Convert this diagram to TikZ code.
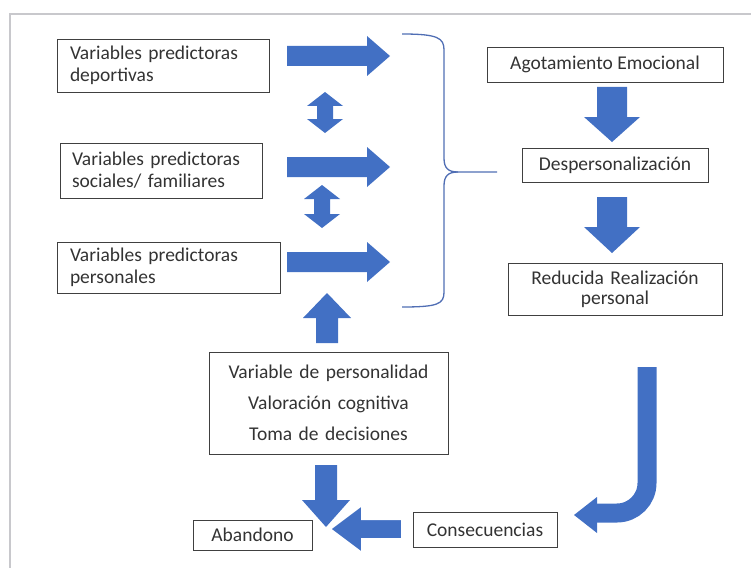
\documentclass[tikz,border=0pt]{standalone}
\usepackage{fontspec}
\setmainfont{Carlito}
\definecolor{arrblue}{RGB}{66,112,196}
\definecolor{bracec}{RGB}{80,110,180}
\definecolor{framec}{RGB}{200,200,204}
\tikzset{
  boxnode/.style={draw=black!75, line width=0.9pt, fill=white, text=black!80, font=\fontsize{19.5}{22}\selectfont, inner sep=0pt},
  blockarrow/.style={fill=arrblue, draw=none},
}
\newcommand\rblock[1]{\fill[blockarrow] (287,#1-10) -- (367,#1-10) -- (367,#1-20) -- (390,#1) -- (367,#1+20) -- (367,#1+10) -- (287,#1+10) -- cycle;}
\newcommand\dblock[3]{\fill[blockarrow] (#1,#2) -- (#1+18,#2+14) -- (#1+8,#2+14) -- (#1+8,#3-14) -- (#1+18,#3-14) -- (#1,#3) -- (#1-18,#3-14) -- (#1-8,#3-14) -- (#1-8,#2+14) -- (#1-18,#2+14) -- cycle;}
\newcommand\downblock[3]{\fill[blockarrow] (612-15,#1) -- (612+15,#1) -- (612+15,#2) -- (612+28,#2) -- (612,#3) -- (612-28,#2) -- (612-15,#2) -- cycle;}
\begin{document}
\begin{tikzpicture}[x=1pt,y=-1pt]
\useasboundingbox (0,0) rectangle (751,567);
% frame
\draw[framec, line width=2.5pt] (760,14) -- (10,14) -- (10,570);

% left boxes
\node[boxnode, minimum width=212pt, minimum height=53pt, text width=186pt, align=left] (dep) at (163,65.5) {Variables predictoras\\deportivas};
\node[boxnode, minimum width=202pt, minimum height=55pt, text width=178pt, align=left] (soc) at (161,170.5) {Variables predictoras\\sociales/ familiares};
\node[boxnode, minimum width=223pt, minimum height=51pt, text width=197pt, align=left] (per) at (168.5,267.5) {Variables predictoras\\personales};

% personality box
\node[boxnode, minimum width=239pt, minimum height=102pt, text width=230pt, align=center, font=\fontsize{19.5}{31}\selectfont] (pers) at (328.5,403) {Variable de personalidad\\Valoración cognitiva\\Toma de decisiones};

% right boxes
\node[boxnode, minimum width=236pt, minimum height=35pt, align=center] (ago) at (605,64.5) {Agotamiento Emocional};
\node[boxnode, minimum width=186pt, minimum height=34pt, align=center] (desp) at (615,165) {Despersonalización};
\node[boxnode, minimum width=214pt, minimum height=52pt, text width=200pt, align=center, font=\fontsize{19.5}{20}\selectfont] (red) at (615,289) {Reducida Realización\\personal};

% bottom boxes
\node[boxnode, minimum width=144pt, minimum height=35pt, align=center] (cons) at (485,529.5) {Consecuencias};
\node[boxnode, minimum width=119pt, minimum height=30pt, align=center] (aban) at (252.5,535) {Abandono};

% right block arrows
\rblock{56}
\rblock{167}
\rblock{262}
% double arrows
\dblock{325}{92}{133}
\dblock{322}{185}{228}
% up arrow into personales row
\fill[blockarrow] (327,293) -- (351,318) -- (338,318) -- (338,343) -- (316,343) -- (316,318) -- (303,318) -- cycle;
% right column down arrows
\downblock{87}{117}{142}
\downblock{197}{227}{253}

% brace
\coordinate (bt) at (402,34);
\coordinate (bb) at (402,307);
\coordinate (btip) at (497,172);
\draw[bracec, line width=1.3pt] (bt) .. controls (438,34) and (444,38) .. (444,50) -- (444,158) .. controls (444,168) and (448,172) .. (458,172) -- (btip);
\draw[bracec, line width=1.3pt] (458,172) .. controls (448,172) and (444,176) .. (444,186) -- (444,292) .. controls (444,304) and (438,307) .. (bb);

% down arrow from personality box
\fill[blockarrow] (315,465) -- (337,465) -- (337,500) -- (350,500) -- (326,527) -- (302,500) -- (315,500) -- cycle;
% left arrow from consecuencias to abandono
\filldraw[fill=arrblue, draw=white, line width=2pt] (402,519) -- (402,539) -- (362,539) -- (362,553) -- (330,529) -- (362,505) -- (362,519) -- cycle;

% bent arrow
\draw[arrblue, line width=19pt, rounded corners=30pt] (647,367) -- (647,513) -- (594,513);
\fill[blockarrow] (597,497) -- (574,515) -- (597,533) -- cycle;
\end{tikzpicture}
\end{document}
